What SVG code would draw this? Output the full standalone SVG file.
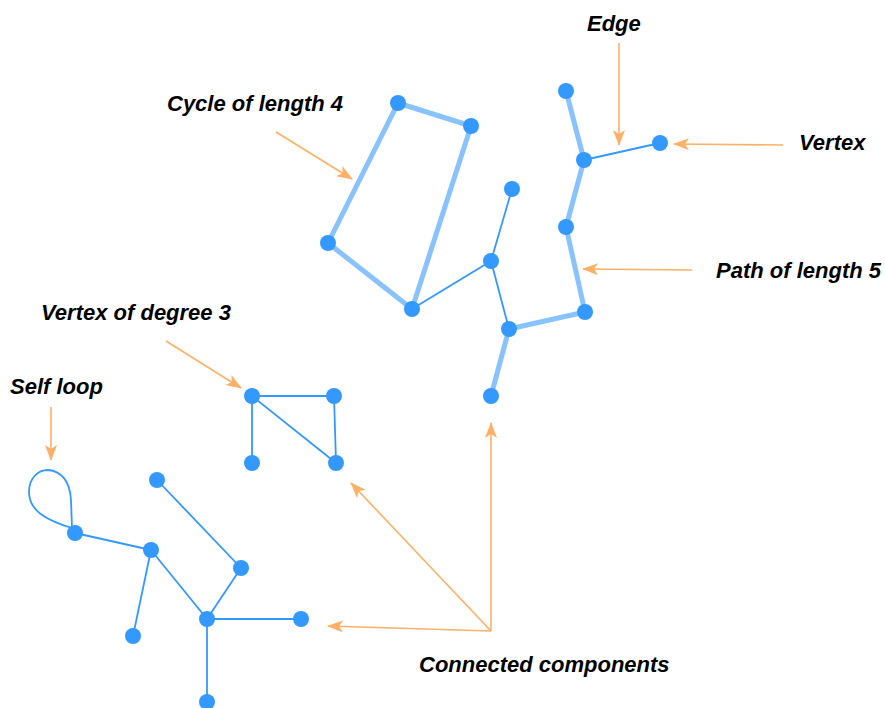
<svg xmlns="http://www.w3.org/2000/svg" width="885" height="708" viewBox="0 0 885 708">
  <style>
    .thin { stroke: #3399ff; stroke-width: 1.8; fill: none; }
    .thick { stroke: #88c2ff; stroke-width: 5; fill: none; stroke-linecap: round; }
    .node circle { fill: #3399ff; }
    .ann { stroke: #ffb066; stroke-width: 1.6; fill: none; }
    .lbl { font-family: "Liberation Sans", Arial, sans-serif; font-size: 22px; font-weight: bold; font-style: italic; fill: #000; }
  </style>
  <defs>
    <marker id="arrow" viewBox="0 0 16 12" markerWidth="16" markerHeight="12" refX="15" refY="6" orient="auto" markerUnits="userSpaceOnUse">
      <path d="M0,0 L16,6 L0,12 L4,6 Z" fill="#ffb066"/>
    </marker>
  </defs>

  <rect width="885" height="708" fill="#ffffff"/>

  <!-- edges -->
  <g id="edges">
    <!-- cycle of length 4 -->
    <line class="thick" x1="398" y1="103" x2="471" y2="126"/>
    <line class="thick" x1="398" y1="103" x2="328" y2="243"/>
    <line class="thick" x1="328" y1="243" x2="412" y2="309"/>
    <line class="thick" x1="412" y1="309" x2="471" y2="126"/>
    <!-- path of length 5 -->
    <line class="thick" x1="491" y1="396" x2="509" y2="329"/>
    <line class="thick" x1="509" y1="329" x2="585" y2="312"/>
    <line class="thick" x1="585" y1="312" x2="566" y2="227"/>
    <line class="thick" x1="566" y1="227" x2="584" y2="160"/>
    <line class="thick" x1="584" y1="160" x2="566" y2="91"/>
    <!-- thin edges, upper component -->
    <line class="thin" x1="412" y1="309" x2="491" y2="261"/>
    <line class="thin" x1="491" y1="261" x2="512" y2="189"/>
    <line class="thin" x1="491" y1="261" x2="509" y2="329"/>
    <line class="thin" x1="584" y1="160" x2="660" y2="143"/>
    <!-- middle component -->
    <line class="thin" x1="252" y1="396" x2="334" y2="396"/>
    <line class="thin" x1="252" y1="396" x2="252" y2="463"/>
    <line class="thin" x1="252" y1="396" x2="336" y2="463"/>
    <line class="thin" x1="334" y1="396" x2="336" y2="463"/>
    <!-- lower component -->
    <path class="thin" d="M72,528 C45,520 29,510 29,492 C29,478 38,470 48,470 C62,471 70,482 71,500 L72,528"/>
    <line class="thin" x1="75" y1="533" x2="151" y2="550"/>
    <line class="thin" x1="151" y1="550" x2="133" y2="636"/>
    <line class="thin" x1="151" y1="550" x2="207" y2="619"/>
    <line class="thin" x1="157" y1="480" x2="241" y2="568"/>
    <line class="thin" x1="241" y1="568" x2="207" y2="619"/>
    <line class="thin" x1="207" y1="619" x2="301" y2="619"/>
    <line class="thin" x1="207" y1="619" x2="207" y2="702"/>
  </g>

  <!-- vertices -->
  <g id="n-a" class="node"><circle cx="398" cy="103" r="8"/></g>
  <g id="n-b" class="node"><circle cx="471" cy="126" r="8"/></g>
  <g id="n-c" class="node"><circle cx="328" cy="243" r="8"/></g>
  <g id="n-d" class="node"><circle cx="412" cy="309" r="8"/></g>
  <g id="n-e" class="node"><circle cx="491" cy="261" r="8"/></g>
  <g id="n-f" class="node"><circle cx="512" cy="189" r="8"/></g>
  <g id="n-g" class="node"><circle cx="509" cy="329" r="8"/></g>
  <g id="n-h" class="node"><circle cx="585" cy="312" r="8"/></g>
  <g id="n-i" class="node"><circle cx="491" cy="396" r="8"/></g>
  <g id="n-j" class="node"><circle cx="566" cy="227" r="8"/></g>
  <g id="n-k" class="node"><circle cx="584" cy="160" r="8"/></g>
  <g id="n-l" class="node"><circle cx="566" cy="91" r="8"/></g>
  <g id="n-m" class="node"><circle cx="660" cy="143" r="8"/></g>
  <g id="n-p" class="node"><circle cx="252" cy="396" r="8"/></g>
  <g id="n-q" class="node"><circle cx="334" cy="396" r="8"/></g>
  <g id="n-r" class="node"><circle cx="252" cy="463" r="8"/></g>
  <g id="n-s" class="node"><circle cx="336" cy="463" r="8"/></g>
  <g id="n-t" class="node"><circle cx="75" cy="533" r="8"/></g>
  <g id="n-u" class="node"><circle cx="151" cy="550" r="8"/></g>
  <g id="n-v" class="node"><circle cx="133" cy="636" r="8"/></g>
  <g id="n-w" class="node"><circle cx="157" cy="480" r="8"/></g>
  <g id="n-x" class="node"><circle cx="241" cy="568" r="8"/></g>
  <g id="n-y" class="node"><circle cx="207" cy="619" r="8"/></g>
  <g id="n-z" class="node"><circle cx="301" cy="619" r="8"/></g>
  <g id="n-zz" class="node"><circle cx="207" cy="702" r="8"/></g>

  <!-- annotation arrows -->
  <g id="annotations">
    <line class="ann" x1="276" y1="132" x2="352" y2="179" marker-end="url(#arrow)"/>
    <line class="ann" x1="619" y1="43" x2="619" y2="145" marker-end="url(#arrow)"/>
    <line class="ann" x1="783" y1="145" x2="674" y2="144" marker-end="url(#arrow)"/>
    <line class="ann" x1="692" y1="270" x2="583" y2="269" marker-end="url(#arrow)"/>
    <line class="ann" x1="166" y1="341" x2="241" y2="388" marker-end="url(#arrow)"/>
    <line class="ann" x1="51" y1="407" x2="51" y2="460" marker-end="url(#arrow)"/>
    <line class="ann" x1="491" y1="631" x2="491" y2="423" marker-end="url(#arrow)"/>
    <line class="ann" x1="491" y1="631" x2="351" y2="483" marker-end="url(#arrow)"/>
    <line class="ann" x1="491" y1="631" x2="328" y2="626" marker-end="url(#arrow)"/>
  </g>

  <!-- labels -->
  <g id="labels">
    <text class="lbl" x="167" y="111">Cycle of length 4</text>
    <text class="lbl" x="587" y="31">Edge</text>
    <text class="lbl" x="799" y="150">Vertex</text>
    <text class="lbl" x="716" y="278">Path of length 5</text>
    <text class="lbl" x="41" y="320">Vertex of degree 3</text>
    <text class="lbl" x="10" y="394">Self loop</text>
    <text class="lbl" x="419" y="672">Connected components</text>
  </g>
</svg>
